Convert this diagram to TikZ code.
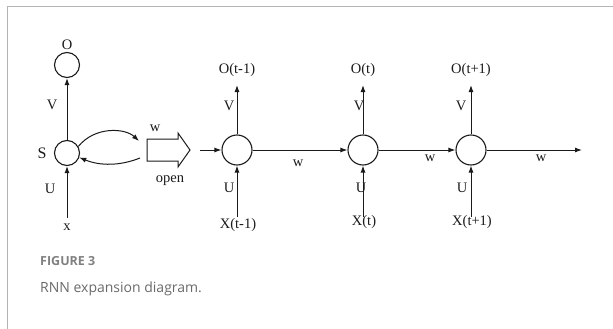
\documentclass[tikz,border=0pt]{standalone}
\usepackage{fontspec}
\setmainfont{Liberation Serif}
\newfontfamily\capfont{Open Sans}
\usetikzlibrary{arrows.meta}
\definecolor{ink}{HTML}{1A1A1A}
\definecolor{capgray}{HTML}{6A6A6A}
\definecolor{framegray}{HTML}{B4B4B4}
\tikzset{
  cell/.style={circle, draw=ink, line width=1.1pt, minimum size=30pt, inner sep=0pt},
  smallcell/.style={circle, draw=ink, line width=1.1pt, minimum size=25pt, inner sep=0pt},
  lbl/.style={inner sep=0pt, font=\fontsize{14.5}{16}\selectfont, text=ink},
  con/.style={draw=ink, line width=1pt, -{Latex[length=7pt,width=5pt]}},
}
\begin{document}
\begin{tikzpicture}[x=1pt,y=-1pt]
\useasboundingbox (0,0) rectangle (613,329);
\draw[framegray, line width=1pt] (7,329) -- (7,7) -- (613,7);

% folded network
\node[smallcell] (O) at (67,65) {};
\node[lbl] (Olbl) at (67,45) {O};
\node[smallcell] (S) at (67,153) {};
\node[lbl, font=\fontsize{16}{18}\selectfont] (Slbl) at (42,153) {S};
\node[lbl] (Vl) at (52,105) {V};
\node[lbl] (Ul) at (50,189) {U};
\node[lbl] (xl) at (67,227) {x};
\coordinate (xin) at (67,218);
\draw[con] (S) -- (O);
\draw[con] (xin) -- (S);
\coordinate (loopA) at (139,141);
\coordinate (loopB) at (140,158);
\draw[con] (S.30) .. controls (95,126) and (125,128) .. (loopA);
\draw[con] (loopB) .. controls (120,166) and (100,166) .. (S.-20);
\node[lbl] (wl) at (155,128) {w};
% hollow arrow
\draw[ink, line width=1pt, fill=white] (147,139) -- (178,139) -- (178,133) -- (190,150) -- (178,167) -- (178,161) -- (147,161) -- cycle;
\node[lbl] (openl) at (170,181) {open};

% unfolded
\node[cell] (A) at (237,150) {};
\node[cell] (B) at (363,150) {};
\node[cell] (C) at (471,150) {};
\coordinate (inA) at (200,150);
\coordinate (outC) at (582,150);
\draw[con] (inA) -- (A);
\draw[con] (A) -- (B);
\draw[con] (B) -- (C);
\draw[con] (C) -- (outC);
\node[lbl] (w1) at (298,163) {w};
\node[lbl] (w2) at (430,158) {w};
\node[lbl] (w3) at (541,158) {w};

\foreach \n/\x/\o/\xx/\vx/\ux/\xy in {A/237/O(t-1)/X(t-1)/229/229/225, B/363/O(t)/X(t)/359/361/222, C/471/O(t+1)/X(t+1)/461/462/222}{
  \coordinate (\n top) at (\x,85);
  \coordinate (\n bot) at (\x,217);
  \draw[con] (\n) -- (\n top);
  \draw[con] (\n bot) -- (\n);
  \node[lbl] (\n O) at (\x,70) {\o};
  \node[lbl] (\n X) at (\x+1,\xy) {\xx};
  \node[lbl] (\n V) at (\vx,106) {V};
  \node[lbl] (\n U) at (\ux,188) {U};
}

% caption
\node[anchor=west, inner sep=0pt, font=\capfont\bfseries\fontsize{12.5}{14}\selectfont, text=capgray!85] (fig) at (40,261) {FIGURE 3};
\node[anchor=west, inner sep=0pt, font=\capfont\fontsize{14}{16}\selectfont, text=capgray] (cap) at (40,289) {RNN expansion diagram.};
\end{tikzpicture}
\end{document}
